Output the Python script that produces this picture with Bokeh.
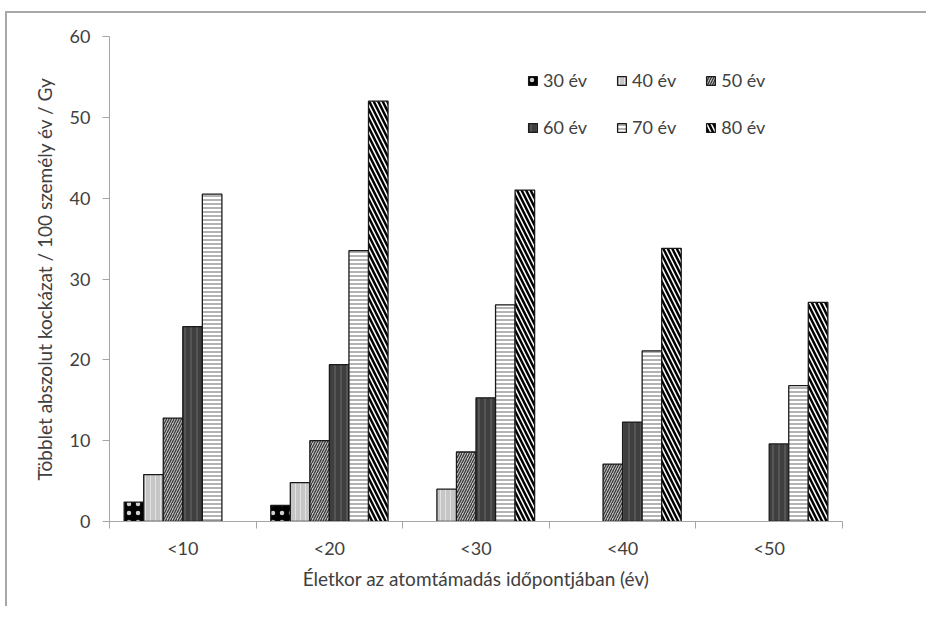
from bokeh.plotting import figure
from bokeh.models import (FixedTicker, Legend, LegendItem, ColumnDataSource, Range1d)
from bokeh.embed import file_html
from bokeh.resources import INLINE

categories = ["<10", "<20", "<30", "<40", "<50"]
series = ["30 év", "40 év", "50 év", "60 év", "70 év", "80 év"]
v30 = [2.4, 2.0, None, None, None]
v40 = [5.8, 4.8, 4.0, None, None]
v50 = [12.8, 10.0, 8.6, 7.1, None]
v60 = [24.1, 19.4, 15.3, 12.3, 9.6]
v70 = [40.5, 33.5, 26.8, 21.1, 16.8]
v80 = [None, 52.0, 41.0, 33.8, 27.1]
values = [v30, v40, v50, v60, v70, v80]
y_ticks = [0, 10, 20, 30, 40, 50, 60]

styles = [
    dict(fill_color="black", hatch_pattern=".", hatch_color="#d0d0d0", hatch_scale=9, hatch_weight=0.5),
    dict(fill_color="#c6c6c6", hatch_pattern="|", hatch_color="#e2e2e2", hatch_scale=5, hatch_weight=1),
    dict(fill_color="#c4c4c4", hatch_pattern="/", hatch_color="#3a3a3a", hatch_scale=5, hatch_weight=1.3),
    dict(fill_color="#3f3f3f", hatch_pattern="|", hatch_color="#5c5c5c", hatch_scale=6, hatch_weight=1.5),
    dict(fill_color="white", hatch_pattern="-", hatch_color="#808080", hatch_scale=4, hatch_weight=1.2),
    dict(fill_color="white", hatch_pattern="\\", hatch_color="black", hatch_scale=9, hatch_weight=2.5),
]

FONT = "Lato"
TXT = "#404040"

p = figure(width=921, height=595, output_backend="svg", toolbar_location=None,
           x_range=Range1d(0, 5), y_range=Range1d(0, 60),
           min_border_left=102, min_border_right=86, min_border_top=23, min_border_bottom=87)
p.margin = (11, 0, 0, 5)
p.styles = {"border-top": "2px solid #a8a8a8", "border-left": "2px solid #a8a8a8"}
p.outline_line_color = None
p.grid.grid_line_color = None

n = len(series)
bw = 0.8 / n
renderers = []
for i, (name, vals) in enumerate(zip(series, values)):
    xs, ys = [], []
    for j, v in enumerate(vals):
        if v is not None:
            xs.append(j + 0.5 + (i - (n - 1) / 2) * bw)
            ys.append(v)
    src = ColumnDataSource(dict(x=xs, top=ys))
    r = p.vbar(x="x", top="top", width=bw, bottom=0, source=src,
               line_color="#1a1a1a", line_width=1.3, **styles[i])
    renderers.append(r)

# axes
xa = p.xaxis[0]
xa.ticker = FixedTicker(ticks=[j + 0.5 for j in range(len(categories))],
                        minor_ticks=list(range(len(categories) + 1)))
xa.major_label_overrides = {j + 0.5: c for j, c in enumerate(categories)}
xa.major_tick_line_color = None
xa.major_tick_out = 0
xa.major_tick_in = 0
xa.minor_tick_line_color = "#a6a6a6"
xa.minor_tick_out = 7
xa.minor_tick_in = 0
xa.axis_line_color = "#a6a6a6"
xa.major_label_standoff = 8
xa.axis_label = "Életkor az atomtámadás időpontjában (év)"
xa.axis_label_standoff = 5

ya = p.yaxis[0]
ya.ticker = FixedTicker(ticks=y_ticks, minor_ticks=[])
ya.axis_line_color = "#a6a6a6"
ya.major_tick_line_color = "#a6a6a6"
ya.major_tick_out = 7
ya.major_tick_in = 0
ya.minor_tick_line_color = None
ya.major_label_standoff = 12
ya.axis_label = "Többlet abszolut kockázat / 100 személy év / Gy"
ya.axis_label_standoff = 11

for ax in (xa, ya):
    ax.major_label_text_font = FONT
    ax.major_label_text_font_size = "18px"
    ax.major_label_text_color = TXT
    ax.axis_label_text_font = FONT
    ax.axis_label_text_font_size = "19px"
    ax.axis_label_text_font_style = "normal"
    ax.axis_label_text_color = TXT

# legends: two rows of three
for row, ypos in ((0, 430), (1, 383)):
    items = [LegendItem(label=series[k], renderers=[renderers[k]]) for k in range(row * 3, row * 3 + 3)]
    lg = Legend(items=items, orientation="horizontal", location=(418, ypos),
                glyph_width=11, glyph_height=11, label_standoff=5, spacing=29,
                padding=0, margin=0, border_line_color=None, background_fill_alpha=0,
                label_text_font=FONT, label_text_font_size="18px", label_text_color=TXT,
                label_height=20)
    p.add_layout(lg, "center")

open("out.html", "w").write(file_html(p, INLINE))
